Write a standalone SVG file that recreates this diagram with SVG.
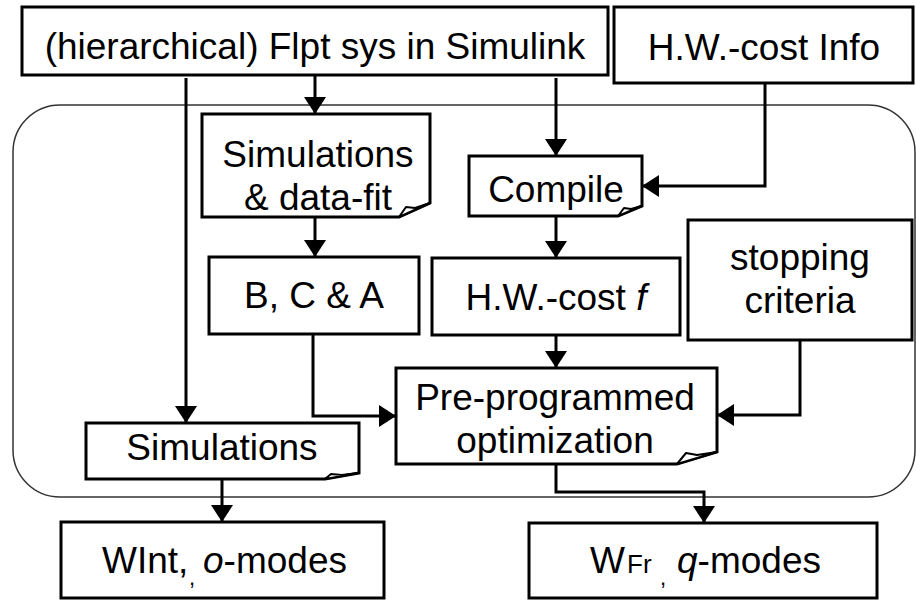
<svg xmlns="http://www.w3.org/2000/svg" width="916" height="600" viewBox="0 0 916 600">
<defs>
<marker id="ah" viewBox="0 0 17 22" refX="17" refY="11" markerWidth="17" markerHeight="22" markerUnits="userSpaceOnUse" orient="auto">
<path d="M0,0 L17,11 L0,22 Z" fill="#000"/>
</marker>
<style>
.box{fill:#fff;stroke:#000;stroke-width:3}
.curl{fill:#fff;stroke:#000;stroke-width:2;stroke-linejoin:round}
.con{fill:none;stroke:#000;stroke-width:3;marker-end:url(#ah)}
.t{font-family:"Liberation Sans",Arial,Helvetica,sans-serif;font-size:37px;fill:#000;text-anchor:middle}
.ts{font-family:"Liberation Sans",Arial,Helvetica,sans-serif;font-size:37px;fill:#000}
</style>
</defs>
<rect x="13" y="105" width="902" height="392" rx="47" ry="47" fill="none" stroke="#333" stroke-width="1.5"/>

<g id="connectors">
<path class="con" d="M186,78 V423"/>
<path class="con" d="M315,75 V114"/>
<path class="con" d="M556,78 V156"/>
<path class="con" d="M765,83 V186 H642"/>
<path class="con" d="M315,217 V257"/>
<path class="con" d="M556,216 V258"/>
<path class="con" d="M313,334 V416 H396"/>
<path class="con" d="M556,335 V368"/>
<path class="con" d="M800,340 V415 H717"/>
<path class="con" d="M222,479 V522"/>
<path class="con" d="M556,464 V492 H704 V523"/>
</g>

<g id="flpt">
<rect class="box" x="22" y="7" width="586" height="68"/>
<text class="t" x="315" y="59">(hierarchical) Flpt sys in Simulink</text>
</g>
<g id="hwinfo">
<rect class="box" x="614" y="7" width="299" height="76"/>
<text class="t" x="764" y="60">H.W.-cost Info</text>
</g>
<g id="simfit">
<path class="box" d="M202,114 H430 V203 L399,217 H202 Z"/>
<path class="curl" d="M399,217 L406,207 L415,208 L430,203 Z"/>
<text class="t" x="318" y="167">Simulations</text>
<text class="t" x="318" y="210">&amp; data-fit</text>
</g>
<g id="compile">
<path class="box" d="M469,156 H642 V206 L618,216 H469 Z"/>
<path class="curl" d="M618,216 L624,208 L631,209 L642,206 Z"/>
<text class="t" x="556" y="202">Compile</text>
</g>
<g id="bca">
<rect class="box" x="209" y="257" width="210" height="77"/>
<text class="t" x="314" y="308">B, C &amp; A</text>
</g>
<g id="hwf">
<rect class="box" x="432" y="258" width="248" height="77"/>
<text class="t" x="556" y="310">H.W.-cost <tspan font-style="italic">f</tspan></text>
</g>
<g id="stop">
<rect class="box" x="688" y="220" width="224" height="120"/>
<text class="t" x="800" y="270">stopping</text>
<text class="t" x="800" y="313">criteria</text>
</g>
<g id="preprog">
<path class="box" d="M396,368 H717 V452 L677,464 H396 Z"/>
<path class="curl" d="M677,464 L686,453 L697,455 L717,452 Z"/>
<text class="t" x="555" y="410">Pre-programmed</text>
<text class="t" x="555" y="453">optimization</text>
</g>
<g id="sims">
<path class="box" d="M86,423 H359 V473 L325,479 H86 Z"/>
<path class="curl" d="M325,479 L331,474 L342,475 L359,473 Z"/>
<text class="t" x="222" y="460">Simulations</text>
</g>
<g id="wint">
<rect class="box" x="61" y="522" width="323" height="76"/>
<text class="ts" y="573"><tspan x="102">WInt,</tspan><tspan x="189" y="585" font-size="22">,</tspan><tspan x="203" y="573" font-style="italic">o</tspan><tspan>-modes</tspan></text>
</g>
<g id="wfr">
<rect class="box" x="529" y="523" width="348" height="75"/>
<text class="ts" y="573"><tspan x="590">W</tspan><tspan x="627" font-size="26">Fr</tspan><tspan x="660" y="585" font-size="22">,</tspan><tspan x="677" y="573" font-style="italic">q</tspan><tspan>-modes</tspan></text>
</g>
</svg>
